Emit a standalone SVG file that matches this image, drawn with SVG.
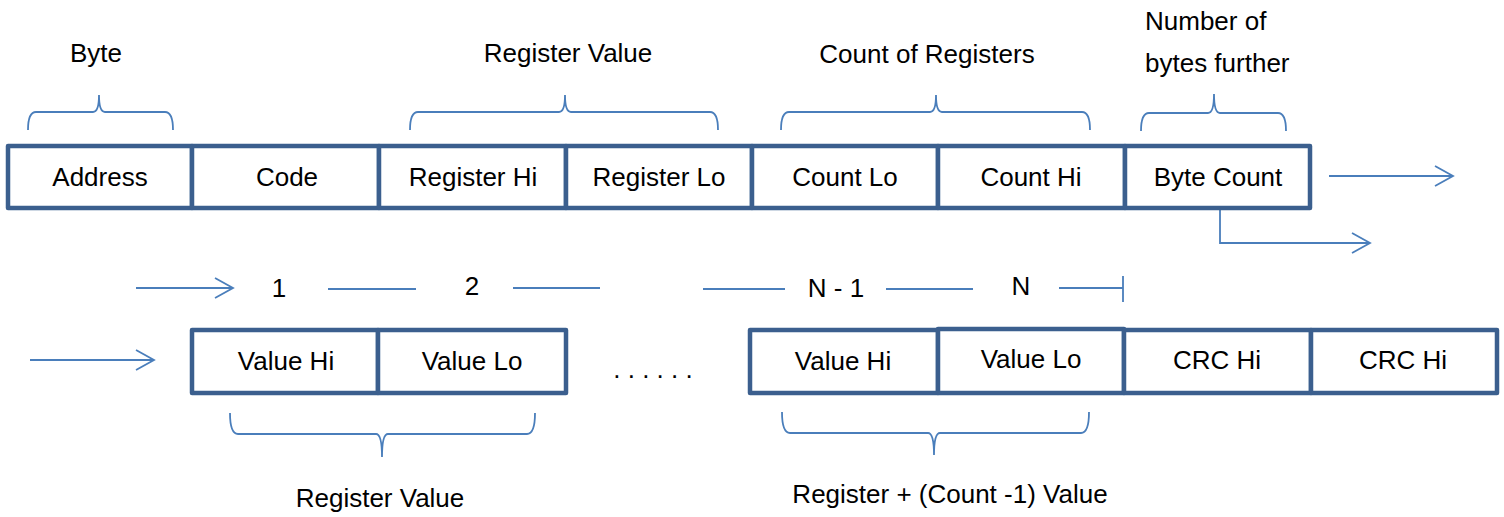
<svg xmlns="http://www.w3.org/2000/svg" width="1504" height="517" viewBox="0 0 1504 517">
<style>
.box{fill:#fff;stroke:#3B5F8E;stroke-width:4.5;stroke-linejoin:round}
.div{stroke:#3B5F8E;stroke-width:4.5}
.t{font-family:"Liberation Sans",Arial,sans-serif;font-size:26px;fill:#000;text-anchor:middle}
.ln{fill:none;stroke:#4A7EBB;stroke-width:1.8}
</style>
<defs>
<marker id="ah" markerWidth="22" markerHeight="24" refX="19" refY="11" orientation="auto" markerUnits="userSpaceOnUse" orient="auto">
<path d="M1,1 L19,11 L1,21" fill="none" stroke="#4A7EBB" stroke-width="1.8"/>
</marker>
</defs>
<rect width="1504" height="517" fill="#fff"/>

<g id="labels">
<text class="t" x="96" y="62">Byte</text>
<text class="t" x="568" y="62">Register Value</text>
<text class="t" x="927" y="63">Count of Registers</text>
<text class="t" x="1145" y="30" style="text-anchor:start">Number of</text>
<text class="t" x="1145" y="72" style="text-anchor:start">bytes further</text>
<text class="t" x="279" y="297">1</text>
<text class="t" x="472" y="295">2</text>
<text class="t" x="836" y="297">N - 1</text>
<text class="t" x="1021" y="295">N</text>
<text class="t" x="653" y="378">. . . . . .</text>
<text class="t" x="380" y="507">Register Value</text>
<text class="t" x="950" y="503">Register + (Count -1) Value</text>
</g>

<g id="braces" class="ln">
<path class="ln" d="M28,130 Q28,112 36,112 H93 Q99,112 99,95 Q99,112 105,112 H165 Q173,112 173,130"/>
<path class="ln" d="M410,130 Q410,112 418,112 H559 Q565,112 565,95 Q565,112 571,112 H710 Q718,112 718,130"/>
<path class="ln" d="M781,130 Q781,112 789,112 H930 Q936,112 936,95 Q936,112 942,112 H1082 Q1090,112 1090,130"/>
<path class="ln" d="M1141,131 Q1141,113 1149,113 H1208 Q1214,113 1214,94 Q1214,113 1220,113 H1278 Q1286,113 1286,131"/>
<path class="ln" d="M230,413 Q230,434 238,434 H376 Q382,434 382,457 Q382,434 388,434 H527 Q535,434 535,413"/>
<path class="ln" d="M782,412 Q782,433 790,433 H928 Q934,433 934,455 Q934,433 940,433 H1081 Q1089,433 1089,412"/>
</g>

<g id="connectors">
<path class="ln" d="M1329,176 H1453" marker-end="url(#ah)"/>
<path class="ln" d="M1220,208 V243 H1370" marker-end="url(#ah)"/>
<path class="ln" d="M136,288 H233" marker-end="url(#ah)"/>
<path class="ln" d="M328,289 H416"/>
<path class="ln" d="M513,288 H600"/>
<path class="ln" d="M703,289 H785"/>
<path class="ln" d="M886,289 H973"/>
<path class="ln" d="M1059,288 H1123 M1123,276 V302"/>
<path class="ln" d="M30,360 H154" marker-end="url(#ah)"/>
</g>

<g id="n-address"><rect class="box" x="8" y="146" width="184" height="62"/><text class="t" x="100" y="186">Address</text></g>
<g id="n-code"><rect class="box" x="192" y="146" width="187" height="62"/><text class="t" x="287" y="186">Code</text></g>
<g id="n-reghi"><rect class="box" x="379" y="146" width="187" height="62"/><text class="t" x="473" y="186">Register Hi</text></g>
<g id="n-reglo"><rect class="box" x="566" y="146" width="186" height="62"/><text class="t" x="659" y="186">Register Lo</text></g>
<g id="n-countlo"><rect class="box" x="752" y="146" width="186" height="62"/><text class="t" x="845" y="186">Count Lo</text></g>
<g id="n-counthi"><rect class="box" x="938" y="146" width="187" height="62"/><text class="t" x="1031" y="186">Count Hi</text></g>
<g id="n-bytecount"><rect class="box" x="1125" y="146" width="185" height="62"/><text class="t" x="1218" y="186">Byte Count</text></g>

<g id="n-valhi1"><rect class="box" x="192" y="330" width="186" height="63"/><text class="t" x="286" y="370">Value Hi</text></g>
<g id="n-vallo1"><rect class="box" x="378" y="330" width="188" height="63"/><text class="t" x="472" y="370">Value Lo</text></g>
<g id="n-valhiN"><rect class="box" x="750" y="330" width="188" height="63"/><text class="t" x="843" y="370">Value Hi</text></g>
<g id="n-valloN"><rect class="box" x="938" y="329" width="186" height="64"/><text class="t" x="1031" y="368">Value Lo</text></g>
<g id="n-crc1"><rect class="box" x="1124" y="330" width="187" height="63"/><text class="t" x="1217" y="369">CRC Hi</text></g>
<g id="n-crc2"><rect class="box" x="1311" y="330" width="186" height="63"/><text class="t" x="1403" y="369">CRC Hi</text></g>
</svg>
